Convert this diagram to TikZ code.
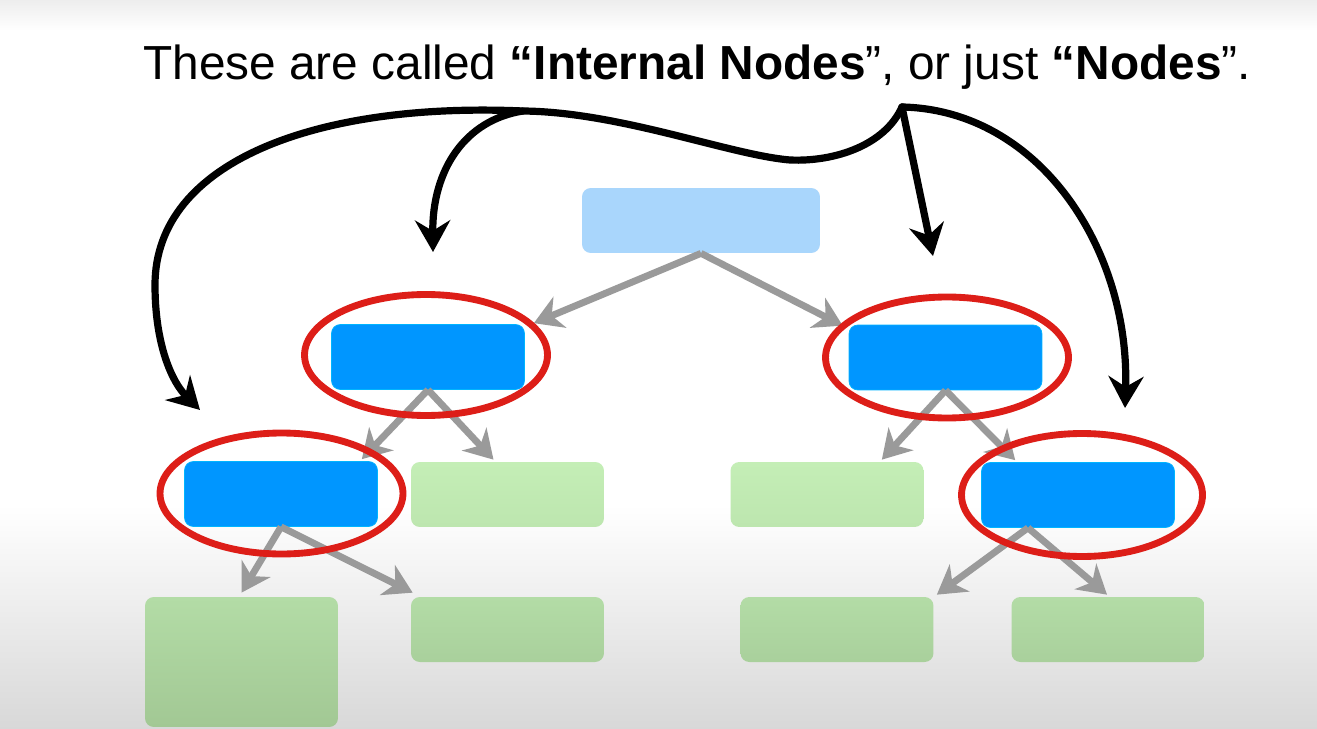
\documentclass[tikz,border=0pt]{standalone}
\usepackage{fontspec}
\setmainfont{Liberation Sans}
\usetikzlibrary{arrows.meta,shapes.geometric,calc}
\definecolor{nodeblue}{HTML}{0096FF}
\definecolor{rootblue}{HTML}{A9D6FC}
\definecolor{greenTop}{HTML}{C4EEB6}
\definecolor{greenBot}{HTML}{BDE6AF}
\definecolor{greenTopB}{HTML}{B3DCA6}
\definecolor{greenBotB}{HTML}{A9D09C}
\definecolor{greenBotC}{HTML}{A2C894}
\definecolor{edgegray}{HTML}{9A9A9A}
\definecolor{ringred}{HTML}{DD1E18}
\definecolor{bgtop}{HTML}{EDEDED}
\definecolor{bgbot}{HTML}{D8D8D8}
\begin{document}
\begin{tikzpicture}[x=0.02cm,y=-0.02cm,
  box/.style={rectangle, rounded corners=5pt, inner sep=0pt, minimum width=3.86cm, minimum height=1.3cm},
  inner/.style={box, fill=nodeblue, draw=nodeblue!70!cyan, line width=0.4pt},
  rootbox/.style={box, fill=rootblue, minimum width=4.76cm},
  leafA/.style={box, top color=greenTop, bottom color=greenBot},
  leafB/.style={box, top color=greenTopB, bottom color=greenBotB},
  ring/.style={ellipse, draw=ringred, line width=3.9pt, inner sep=0pt, minimum width=4.86cm, minimum height=2.42cm},
  edge/.style={draw=edgegray, line width=3.9pt, -{Stealth[length=16pt,width=19pt,inset=5pt]}},
  pointer/.style={draw=black, line width=4.1pt, line cap=round, -{Stealth[length=18pt,width=20pt,inset=6pt]}}
]
% background
\fill[white] (0,0) rectangle (1317,729);
\shade[top color=bgtop, bottom color=white] (0,0) rectangle (1317,30);
\shade[top color=white, bottom color=bgbot] (0,505) rectangle (1317,729);
\useasboundingbox (0,0) rectangle (1317,729);

% title
\node[anchor=base west, inner sep=0pt, font=\fontsize{27.2pt}{32pt}\selectfont] (title) at (143,80)
  {These are called \textbf{“Internal Nodes}”, or just \textbf{“Nodes}”.};

% tree nodes
\node[rootbox] (root) at (701,220.5) {};
\node[inner] (l1l) at (428,357) {};
\node[inner] (l1r) at (945.5,357.5) {};
\node[inner] (l2l) at (281,494) {};
\node[leafA] (l2a) at (507.5,494.5) {};
\node[leafA] (l2b) at (827,494.5) {};
\node[inner] (l2r) at (1078,495) {};
\node[box, top color=greenTopB, bottom color=greenBotC, minimum height=2.6cm] (l3a) at (241.5,662) {};
\node[leafB] (l3b) at (507.5,629.5) {};
\node[leafB] (l3c) at (837,629.5) {};
\node[leafB] (l3d) at (1108,629.5) {};

% edges
\draw[edge] (root.south) -- ([shift={(9,-1)}]l1l.north east);
\draw[edge] (root.south) -- ([shift={(-6,1)}]l1r.north west);
\draw[edge] (l1l.south) -- ([shift={(-16,-2)}]l2l.north east);
\draw[edge] (l1l.south) -- ([shift={(-14,-2)}]l2a.north);
\draw[edge] (l2l.south) -- ([shift={(0,-4)}]l3a.north);
\draw[edge] (l2l.south) -- ([shift={(2,-4)}]l3b.north west);
\draw[edge] (l1r.south) -- ([shift={(-42,-2)}]l2b.north east);
\draw[edge] (l1r.south) -- ([shift={(34,-2)}]l2r.north west);
\draw[edge] ([xshift=-50*0.02cm]l2r.south) -- ([shift={(3,-2)}]l3c.north east);
\draw[edge] ([xshift=-50*0.02cm]l2r.south) -- ([shift={(-1,-2)}]l3d.north);

% red rings
\node[ring] (r1l) at (426,355) {};
\node[ring] (r1r) at (947,357.5) {};
\node[ring] (r2l) at (281.5,493.5) {};
\node[ring, minimum width=4.82cm, minimum height=2.46cm] (r2r) at (1082,495) {};

% black pointers
\coordinate (hub) at (902,107);
\coordinate (split) at (523,111);
\coordinate (tipA) at (200,410);
\coordinate (tipB) at (433,252);
\coordinate (tipC) at (933,256);
\coordinate (tipD) at (1125,408);
\draw[pointer] (hub) .. controls (885,145) and (835,162) .. (790,160)
   .. controls (730,155) and (620,112) .. (split)
   .. controls (320,102) and (155,160) .. (155,285)
   .. controls (155,345) and (172,382) .. (tipA);
\draw[pointer] (split) .. controls (465,120) and (432,170) .. (tipB);
\draw[pointer] (hub) -- (tipC);
\draw[pointer] (hub) .. controls (1040,110) and (1130,250) .. (tipD);
\end{tikzpicture}
\end{document}
